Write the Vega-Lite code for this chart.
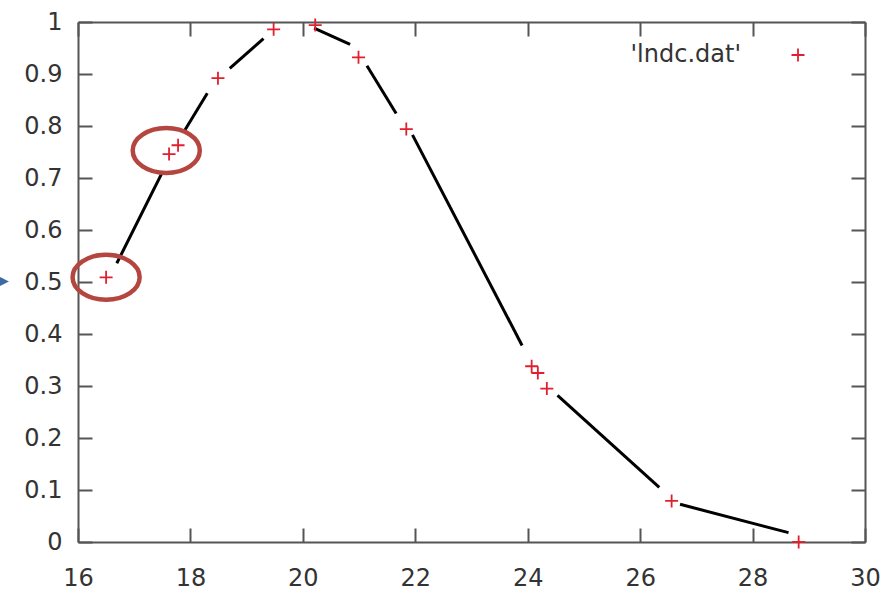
{
  "$schema": "https://vega.github.io/schema/vega-lite/v6.json",
  "width": 787,
  "height": 520,
  "autosize": {"type": "none"},
  "padding": {"left": 78, "top": 22, "right": 24, "bottom": 50},
  "background": "white",
  "config": {
    "view": {"stroke": null},
    "axis": {
      "domainColor": "#555555",
      "domainWidth": 2,
      "tickColor": "#555555",
      "tickWidth": 2,
      "tickSize": -14,
      "labelFont": "DejaVu Sans",
      "labelFontSize": 24,
      "labelColor": "#333333",
      "labelFlush": false,
      "labelOverlap": false,
      "grid": false,
      "title": null
    }
  },
  "datasets": {
    "pts": [
      {"x": 16.50, "y": 0.509, "series": "'lndc.dat'"},
      {"x": 17.62, "y": 0.746, "series": "'lndc.dat'"},
      {"x": 17.78, "y": 0.763, "series": "'lndc.dat'"},
      {"x": 18.49, "y": 0.892, "series": "'lndc.dat'"},
      {"x": 19.48, "y": 0.986, "series": "'lndc.dat'"},
      {"x": 20.22, "y": 0.994, "series": "'lndc.dat'"},
      {"x": 20.99, "y": 0.932, "series": "'lndc.dat'"},
      {"x": 21.84, "y": 0.794, "series": "'lndc.dat'"},
      {"x": 24.07, "y": 0.338, "series": "'lndc.dat'"},
      {"x": 24.18, "y": 0.325, "series": "'lndc.dat'"},
      {"x": 24.34, "y": 0.295, "series": "'lndc.dat'"},
      {"x": 26.56, "y": 0.079, "series": "'lndc.dat'"},
      {"x": 28.82, "y": 0.0, "series": "'lndc.dat'"}
    ],
    "curve": [
      {"seg": 1, "x": 16.69, "y": 0.536},
      {"seg": 1, "x": 17.49, "y": 0.709},
      {"seg": 2, "x": 17.90, "y": 0.792},
      {"seg": 2, "x": 18.30, "y": 0.863},
      {"seg": 3, "x": 18.70, "y": 0.911},
      {"seg": 3, "x": 19.30, "y": 0.968},
      {"seg": 4, "x": 20.20, "y": 0.988},
      {"seg": 4, "x": 20.84, "y": 0.957},
      {"seg": 5, "x": 21.14, "y": 0.916},
      {"seg": 5, "x": 21.66, "y": 0.824},
      {"seg": 6, "x": 21.95, "y": 0.783},
      {"seg": 6, "x": 23.90, "y": 0.378},
      {"seg": 7, "x": 24.53, "y": 0.282},
      {"seg": 7, "x": 26.34, "y": 0.105},
      {"seg": 8, "x": 26.71, "y": 0.0725},
      {"seg": 8, "x": 28.64, "y": 0.018}
    ],
    "rings": [
      {"x": 16.50, "y": 0.509},
      {"x": 17.57, "y": 0.753}
    ],
    "arrow": [
      {"x": 14.594, "y": 0.501}
    ]
  },
  "layer": [
    {
      "data": {"name": "curve"},
      "mark": {"type": "line", "color": "black", "strokeWidth": 3},
      "encoding": {
        "x": {
          "field": "x", "type": "quantitative",
          "scale": {"domain": [16, 30], "nice": false, "zero": false},
          "axis": {"orient": "bottom", "values": [16, 18, 20, 22, 24, 26, 28, 30], "labelPadding": 38}
        },
        "y": {
          "field": "y", "type": "quantitative",
          "scale": {"domain": [0, 1], "nice": false},
          "axis": {"orient": "left", "values": [0, 0.1, 0.2, 0.3, 0.4, 0.5, 0.6, 0.7, 0.8, 0.9, 1], "format": "~g", "labelPadding": 30}
        },
        "detail": {"field": "seg", "type": "nominal"}
      }
    },
    {
      "data": {"name": "pts"},
      "mark": {"type": "point", "shape": "M-1,0L1,0M0,-1L0,1", "filled": false, "size": 169, "strokeWidth": 1.8, "opacity": 1},
      "encoding": {
        "x": {
          "field": "x", "type": "quantitative",
          "axis": {"orient": "top", "labels": false, "values": [16, 18, 20, 22, 24, 26, 28, 30]}
        },
        "y": {
          "field": "y", "type": "quantitative",
          "axis": {"orient": "right", "labels": false, "values": [0, 0.1, 0.2, 0.3, 0.4, 0.5, 0.6, 0.7, 0.8, 0.9, 1]}
        },
        "color": {
          "field": "series", "type": "nominal",
          "scale": {"range": ["#e0202f"]},
          "legend": {
            "title": null,
            "orient": "none",
            "legendX": 708,
            "legendY": 21,
            "padding": 0,
            "labelAlign": "right",
            "labelOffset": -69,
            "labelFont": "DejaVu Sans",
            "labelFontSize": 24,
            "labelColor": "#333333",
            "symbolType": "M-1,0L1,0M0,-1L0,1",
            "symbolSize": 169,
            "symbolStrokeWidth": 1.8,
            "symbolFillColor": "transparent"
          }
        }
      }
    },
    {
      "data": {"name": "rings"},
      "mark": {"type": "point", "shape": "M-1,0A1,0.67,0,1,0,1,0A1,0.67,0,1,0,-1,0Z", "filled": false, "size": 4500, "strokeWidth": 4.5, "color": "#b5453f", "opacity": 1},
      "encoding": {
        "x": {"field": "x", "type": "quantitative", "axis": null},
        "y": {"field": "y", "type": "quantitative", "axis": null}
      }
    },
    {
      "data": {"name": "arrow"},
      "mark": {"type": "point", "shape": "M-1,-1L1,0L-1,1Z", "filled": true, "size": 400, "color": "#3e6aa1", "opacity": 1},
      "encoding": {
        "x": {"field": "x", "type": "quantitative", "axis": null},
        "y": {"field": "y", "type": "quantitative", "axis": null}
      }
    }
  ],
  "resolve": {"axis": {"x": "independent", "y": "independent"}}
}
